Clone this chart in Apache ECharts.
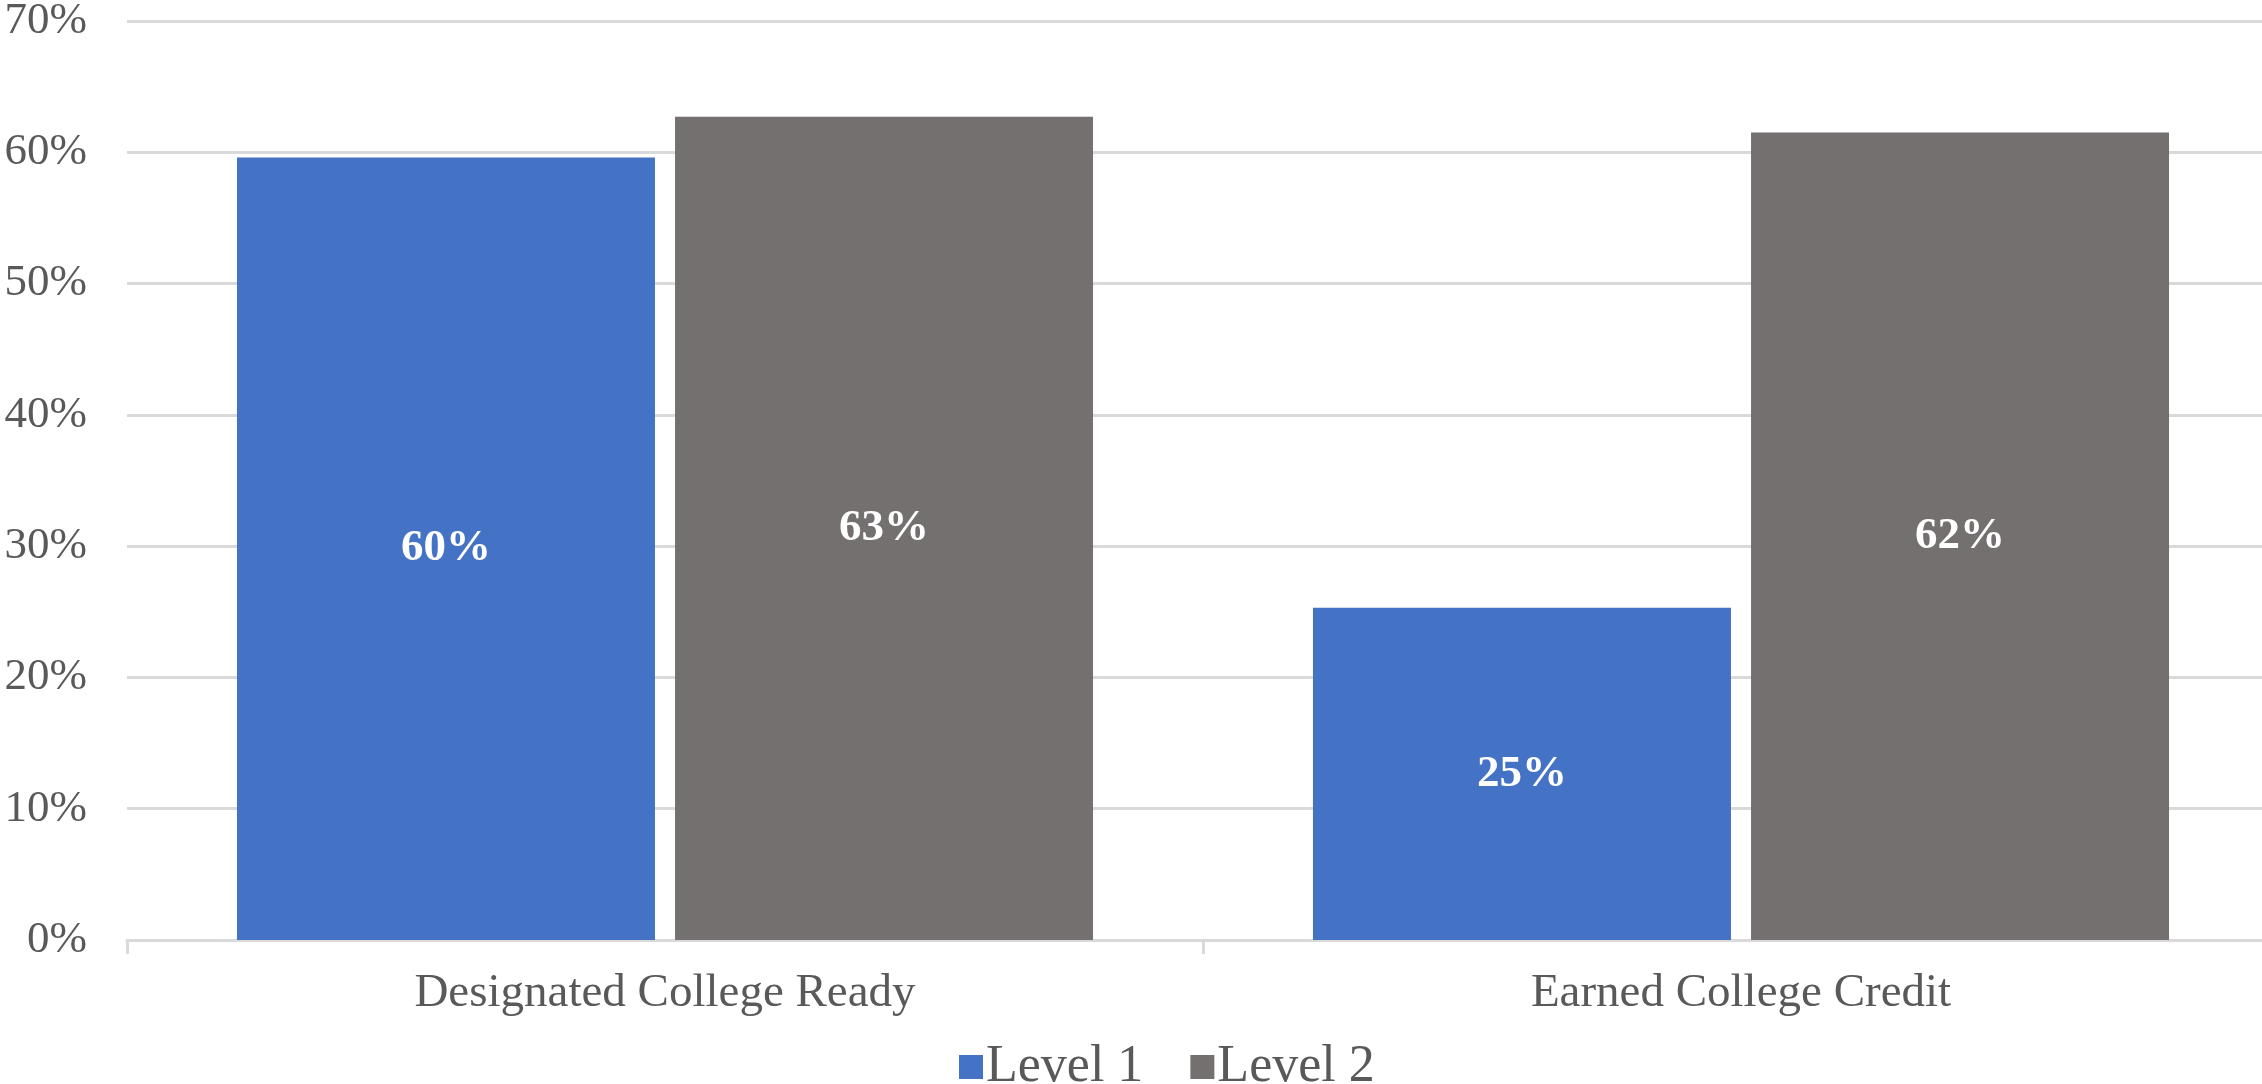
<!DOCTYPE html>
<html>
<head>
<meta charset="utf-8">
<script src="https://cdn.jsdelivr.net/npm/echarts@6/dist/echarts.min.js"></script>
<style>
 html, body { margin: 0; padding: 0; background: #ffffff; }
 #chart { width: 2262px; height: 1084px; }
</style>
</head>
<body>
<div id="chart"></div>
<script>
const categories = ['Designated College Ready', 'Earned College Credit'];
const level1 = [59.6, 25.3];
const level2 = [62.7, 61.5];
const seriesNames = ['Level 1', 'Level 2'];

const serif = '"Liberation Serif", "Times New Roman", serif';
const textGray = '#595959';
const gridGray = '#d9d9d9';
const colors = ['#4472c4', '#757070'];

const chart = echarts.init(document.getElementById('chart'), null, { renderer: 'canvas' });

const barLabel = {
 show: true,
 position: 'inside',
 color: '#ffffff',
 fontWeight: 'bold',
 fontSize: 45,
 fontFamily: serif,
 formatter: (p) => Math.round(p.value) + '%',
};

chart.setOption({
 backgroundColor: '#ffffff',
 animation: false,
 grid: {
  left: 127,
  top: 21,
  width: 2152,
  height: 919,
  containLabel: false,
  outerBoundsMode: 'none',
 },
 legend: {
  data: seriesNames,
  left: 954,
  top: 1036,
  itemWidth: 24,
  itemHeight: 24,
  itemGap: 47,
  icon: 'rect',
  textStyle: { color: textGray, fontSize: 52, fontFamily: serif, padding: [0, 0, 0, -2] },
 },
 xAxis: {
  type: 'category',
  data: categories,
  axisLine: { lineStyle: { color: gridGray, width: 3 } },
  axisTick: { show: true, length: 14, lineStyle: { color: gridGray, width: 3 } },
  axisLabel: { color: textGray, fontSize: 47, fontFamily: serif, margin: 30 },
 },
 yAxis: {
  type: 'value',
  min: 0,
  max: 70,
  interval: 10,
  axisLine: { show: false },
  axisTick: { show: false },
  splitLine: { lineStyle: { color: gridGray, width: 3 } },
  axisLabel: { color: textGray, fontSize: 45, fontFamily: serif, margin: 40, formatter: '{value}%' },
 },
 series: [
  {
   name: seriesNames[0],
   type: 'bar',
   data: level1,
   barWidth: 418,
   barGap: '4.8%',
   itemStyle: { color: colors[0] },
   label: barLabel,
  },
  {
   name: seriesNames[1],
   type: 'bar',
   data: level2,
   barWidth: 418,
   barGap: '4.8%',
   itemStyle: { color: colors[1] },
   label: barLabel,
  },
 ],
});
</script>
</body>
</html>
